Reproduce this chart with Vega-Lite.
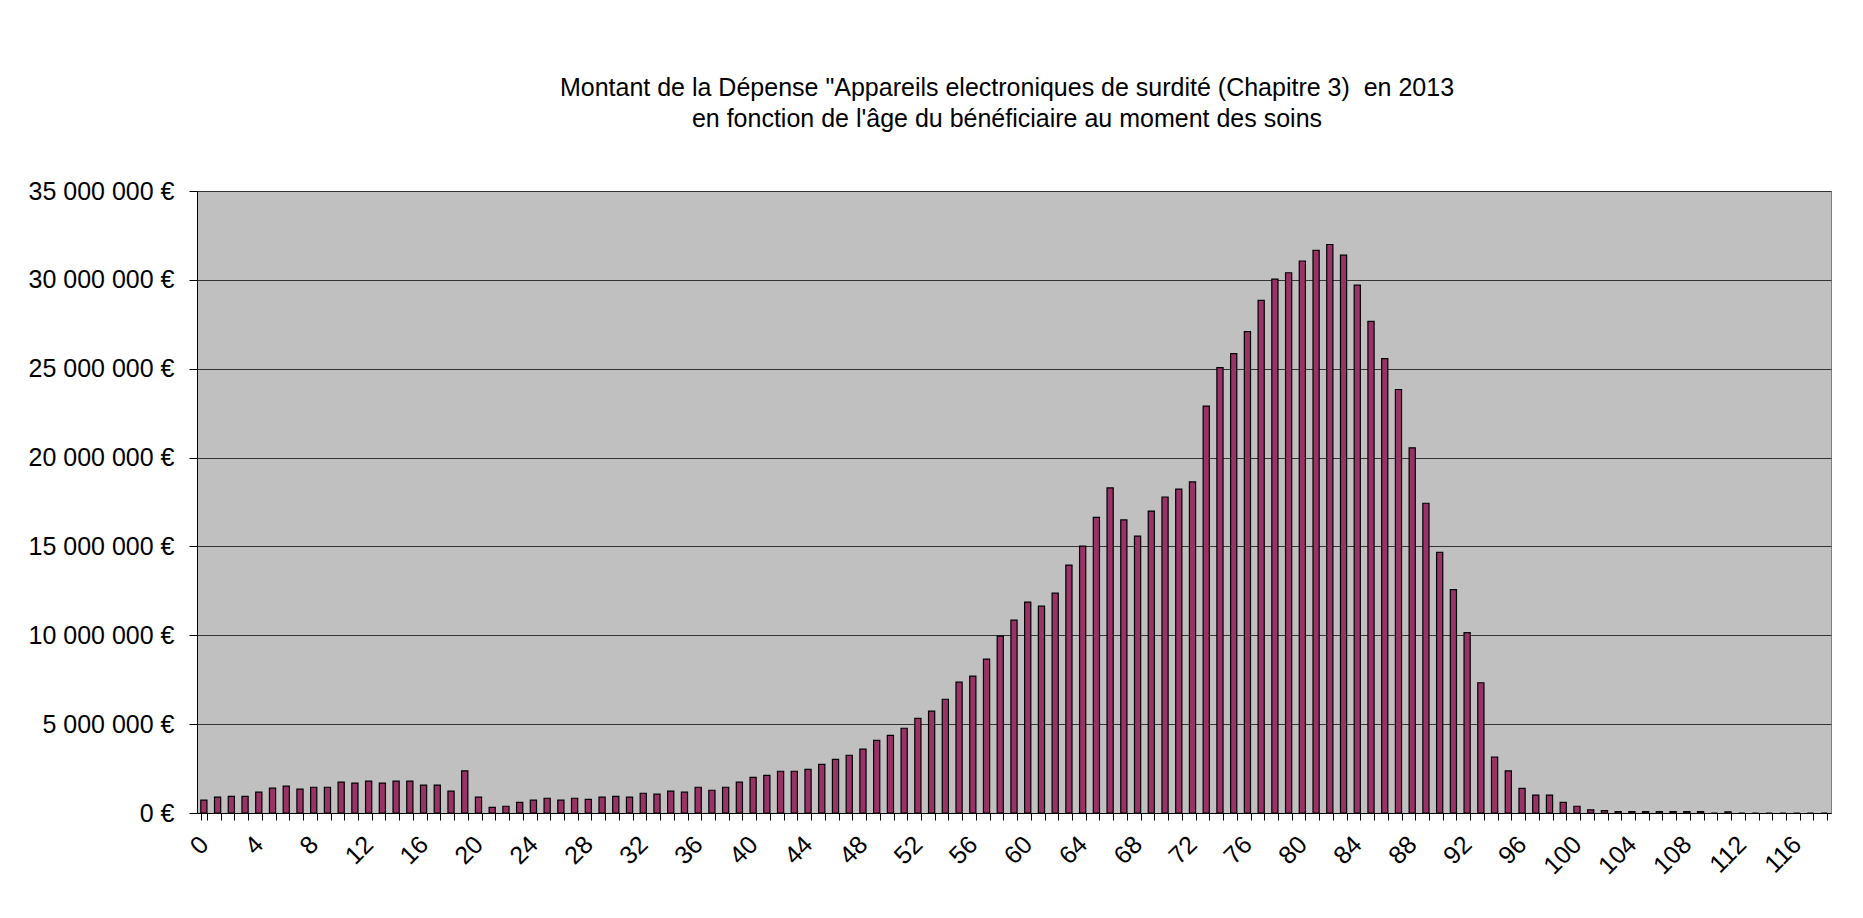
{
  "$schema": "https://vega.github.io/schema/vega-lite/v6.json",
  "width": 1634,
  "height": 622,
  "autosize": {"type": "none"},
  "padding": {"left": 197, "top": 191, "right": 32, "bottom": 105},
  "background": "white",
  "title": {
    "text": ["Montant de la Dépense \"Appareils electroniques de surdité (Chapitre 3)\u00a0 en 2013", "en fonction de l'âge du bénéficiaire au moment des soins"],
    "font": "Liberation Sans",
    "fontSize": 25,
    "fontWeight": "normal",
    "color": "black",
    "anchor": "middle",
    "frame": "group",
    "dx": -7,
    "offset": 47,
    "lineHeight": 31
  },
  "data": {
    "values": [
      {"age": 0, "montant": 720000}, {"age": 1, "montant": 890000}, {"age": 2, "montant": 940000}, {"age": 3, "montant": 940000},
      {"age": 4, "montant": 1170000}, {"age": 5, "montant": 1400000}, {"age": 6, "montant": 1510000}, {"age": 7, "montant": 1340000},
      {"age": 8, "montant": 1450000}, {"age": 9, "montant": 1450000}, {"age": 10, "montant": 1740000}, {"age": 11, "montant": 1680000},
      {"age": 12, "montant": 1790000}, {"age": 13, "montant": 1680000}, {"age": 14, "montant": 1790000}, {"age": 15, "montant": 1790000},
      {"age": 16, "montant": 1570000}, {"age": 17, "montant": 1570000}, {"age": 18, "montant": 1230000}, {"age": 19, "montant": 2370000},
      {"age": 20, "montant": 890000}, {"age": 21, "montant": 320000}, {"age": 22, "montant": 380000}, {"age": 23, "montant": 600000},
      {"age": 24, "montant": 720000}, {"age": 25, "montant": 830000}, {"age": 26, "montant": 720000}, {"age": 27, "montant": 830000},
      {"age": 28, "montant": 770000}, {"age": 29, "montant": 890000}, {"age": 30, "montant": 940000}, {"age": 31, "montant": 890000},
      {"age": 32, "montant": 1110000}, {"age": 33, "montant": 1060000}, {"age": 34, "montant": 1230000}, {"age": 35, "montant": 1170000},
      {"age": 36, "montant": 1450000}, {"age": 37, "montant": 1280000}, {"age": 38, "montant": 1450000}, {"age": 39, "montant": 1740000},
      {"age": 40, "montant": 2010000}, {"age": 41, "montant": 2120000}, {"age": 42, "montant": 2350000}, {"age": 43, "montant": 2350000},
      {"age": 44, "montant": 2460000}, {"age": 45, "montant": 2740000}, {"age": 46, "montant": 3020000}, {"age": 47, "montant": 3250000},
      {"age": 48, "montant": 3590000}, {"age": 49, "montant": 4090000}, {"age": 50, "montant": 4370000}, {"age": 51, "montant": 4770000},
      {"age": 52, "montant": 5330000}, {"age": 53, "montant": 5730000}, {"age": 54, "montant": 6400000}, {"age": 55, "montant": 7360000},
      {"age": 56, "montant": 7700000}, {"age": 57, "montant": 8660000}, {"age": 58, "montant": 9950000}, {"age": 59, "montant": 10850000},
      {"age": 60, "montant": 11870000}, {"age": 61, "montant": 11640000}, {"age": 62, "montant": 12370000}, {"age": 63, "montant": 13950000},
      {"age": 64, "montant": 15020000}, {"age": 65, "montant": 16640000}, {"age": 66, "montant": 18290000}, {"age": 67, "montant": 16490000},
      {"age": 68, "montant": 15580000}, {"age": 69, "montant": 16990000}, {"age": 70, "montant": 17780000}, {"age": 71, "montant": 18230000},
      {"age": 72, "montant": 18630000}, {"age": 73, "montant": 22900000}, {"age": 74, "montant": 25060000}, {"age": 75, "montant": 25850000},
      {"age": 76, "montant": 27090000}, {"age": 77, "montant": 28850000}, {"age": 78, "montant": 30040000}, {"age": 79, "montant": 30400000},
      {"age": 80, "montant": 31060000}, {"age": 81, "montant": 31660000}, {"age": 82, "montant": 31990000}, {"age": 83, "montant": 31390000},
      {"age": 84, "montant": 29700000}, {"age": 85, "montant": 27660000}, {"age": 86, "montant": 25570000}, {"age": 87, "montant": 23830000},
      {"age": 88, "montant": 20550000}, {"age": 89, "montant": 17430000}, {"age": 90, "montant": 14660000}, {"age": 91, "montant": 12570000},
      {"age": 92, "montant": 10150000}, {"age": 93, "montant": 7330000}, {"age": 94, "montant": 3150000}, {"age": 95, "montant": 2370000},
      {"age": 96, "montant": 1390000}, {"age": 97, "montant": 1010000}, {"age": 98, "montant": 1010000}, {"age": 99, "montant": 600000},
      {"age": 100, "montant": 380000}, {"age": 101, "montant": 180000}, {"age": 102, "montant": 130000}, {"age": 103, "montant": 80000},
      {"age": 104, "montant": 80000}, {"age": 105, "montant": 80000}, {"age": 106, "montant": 80000}, {"age": 107, "montant": 80000},
      {"age": 108, "montant": 80000}, {"age": 109, "montant": 80000}, {"age": 110, "montant": 0}, {"age": 111, "montant": 70000},
      {"age": 112, "montant": 0}, {"age": 113, "montant": 0}, {"age": 114, "montant": 0}, {"age": 115, "montant": 0},
      {"age": 116, "montant": 0}, {"age": 117, "montant": 0}, {"age": 118, "montant": 0}
    ]
  },
  "mark": {"type": "bar", "fill": "#993366", "stroke": "black", "strokeWidth": 1.2},
  "encoding": {
    "x": {
      "field": "age",
      "type": "ordinal",
      "scale": {"paddingInner": 0.55, "paddingOuter": 0.275},
      "axis": {
        "title": null,
        "labelAngle": -45,
        "labelAlign": "right",
        "labelBaseline": "middle",
        "labelFont": "Liberation Sans",
        "labelFontSize": 25,
        "labelColor": "black",
        "labelPadding": 20,
        "labelOverlap": false,
        "labelExpr": "datum.value % 4 === 0 ? datum.label : ''",
        "tickSize": 7,
        "tickColor": "black",
        "tickBand": "extent",
        "domainColor": "black",
        "grid": false
      }
    },
    "y": {
      "field": "montant",
      "type": "quantitative",
      "scale": {"domain": [0, 35000000], "nice": false},
      "axis": {
        "title": null,
        "values": [0, 5000000, 10000000, 15000000, 20000000, 25000000, 30000000, 35000000],
        "labelExpr": "replace(format(datum.value, ',d'), regexp(',', 'g'), ' ') + ' €'",
        "labelFont": "Liberation Sans",
        "labelFontSize": 25,
        "labelColor": "black",
        "labelPadding": 15,
        "tickSize": 8,
        "tickColor": "black",
        "domainColor": "black",
        "grid": true,
        "gridColor": "#333333",
        "gridWidth": 1
      }
    }
  },
  "config": {
    "view": {"fill": "#C0C0C0", "stroke": "#808080"},
    "font": "Liberation Sans"
  }
}
